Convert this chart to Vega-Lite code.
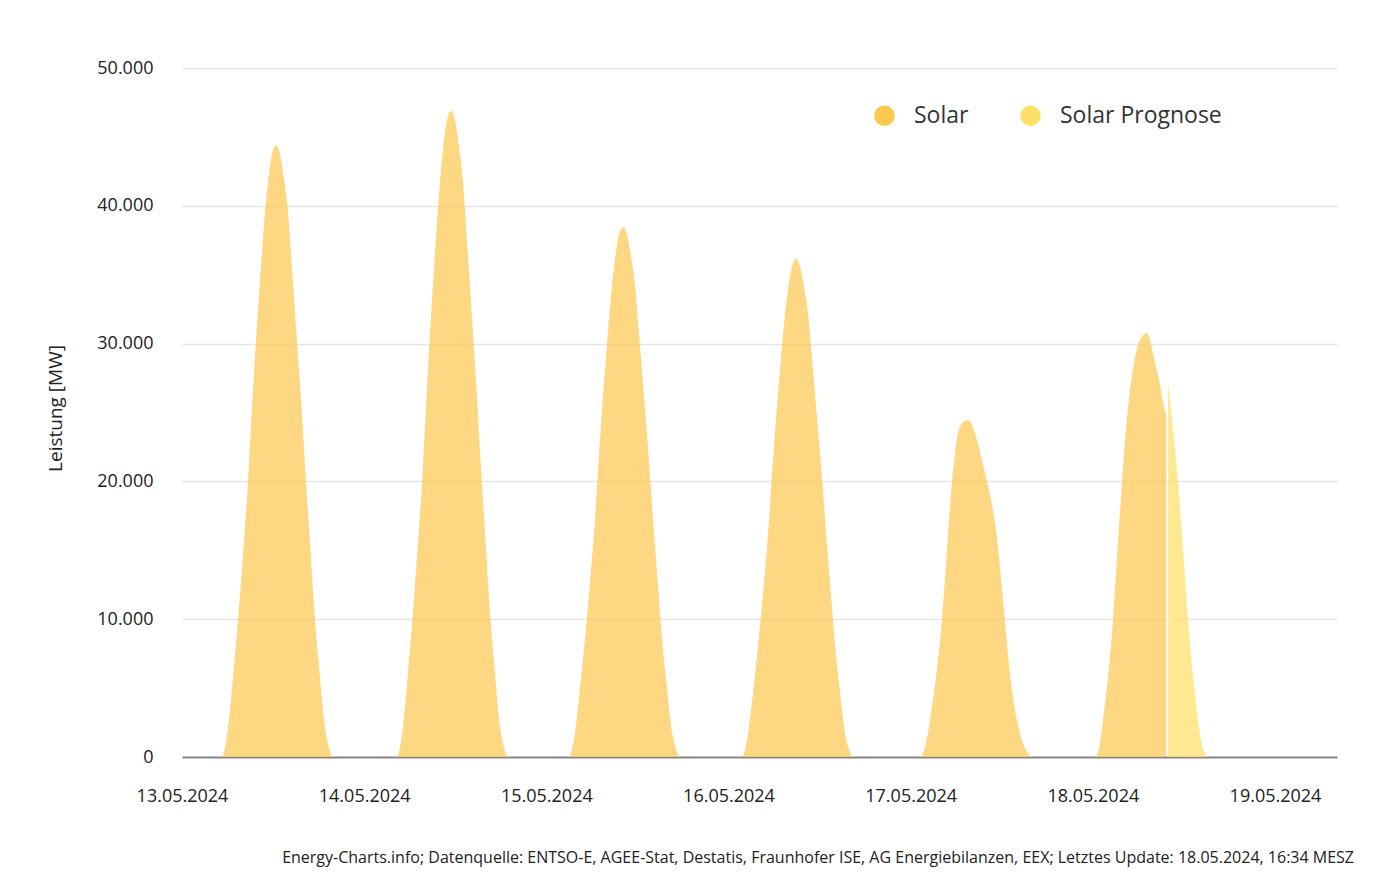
{
  "$schema": "https://vega.github.io/schema/vega-lite/v6.json",
  "autosize": {"type": "none"},
  "padding": {"left": 182, "top": 68, "right": 50, "bottom": 135},
  "width": 1155,
  "height": 689,
  "background": "white",
  "config": {
    "font": "Open Sans",
    "view": {"stroke": null}
  },
  "title": {
    "text": "Energy-Charts.info; Datenquelle: ENTSO-E, AGEE-Stat, Destatis, Fraunhofer ISE, AG Energiebilanzen, EEX; Letztes Update: 18.05.2024, 16:34 MESZ",
    "orient": "bottom",
    "anchor": "end",
    "frame": "group",
    "fontSize": 16,
    "fontWeight": "normal",
    "font": "Open Sans",
    "color": "#222222",
    "offset": 45,
    "dx": 17
  },
  "data": {
    "values": [
      {"t": "2024-05-13T00:00", "v": 0, "s": "Solar"},
      {"t": "2024-05-13T05:16", "v": 0, "s": "Solar"},
      {"t": "2024-05-13T05:40", "v": 666, "s": "Solar"},
      {"t": "2024-05-13T06:11", "v": 2664, "s": "Solar"},
      {"t": "2024-05-13T06:43", "v": 5772, "s": "Solar"},
      {"t": "2024-05-13T07:23", "v": 9990, "s": "Solar"},
      {"t": "2024-05-13T08:02", "v": 14650, "s": "Solar"},
      {"t": "2024-05-13T08:42", "v": 19980, "s": "Solar"},
      {"t": "2024-05-13T09:13", "v": 25310, "s": "Solar"},
      {"t": "2024-05-13T09:45", "v": 30190, "s": "Solar"},
      {"t": "2024-05-13T10:17", "v": 34630, "s": "Solar"},
      {"t": "2024-05-13T10:48", "v": 38630, "s": "Solar"},
      {"t": "2024-05-13T11:20", "v": 41740, "s": "Solar"},
      {"t": "2024-05-13T11:51", "v": 43730, "s": "Solar"},
      {"t": "2024-05-13T12:23", "v": 44400, "s": "Solar"},
      {"t": "2024-05-13T12:55", "v": 43730, "s": "Solar"},
      {"t": "2024-05-13T13:26", "v": 41960, "s": "Solar"},
      {"t": "2024-05-13T13:58", "v": 39520, "s": "Solar"},
      {"t": "2024-05-13T14:29", "v": 35520, "s": "Solar"},
      {"t": "2024-05-13T15:09", "v": 30190, "s": "Solar"},
      {"t": "2024-05-13T15:45", "v": 25310, "s": "Solar"},
      {"t": "2024-05-13T16:20", "v": 19980, "s": "Solar"},
      {"t": "2024-05-13T16:56", "v": 14870, "s": "Solar"},
      {"t": "2024-05-13T17:31", "v": 9990, "s": "Solar"},
      {"t": "2024-05-13T18:11", "v": 5772, "s": "Solar"},
      {"t": "2024-05-13T18:42", "v": 2664, "s": "Solar"},
      {"t": "2024-05-13T19:22", "v": 666, "s": "Solar"},
      {"t": "2024-05-13T19:54", "v": 0, "s": "Solar"},
      {"t": "2024-05-14T04:19", "v": 0, "s": "Solar"},
      {"t": "2024-05-14T04:43", "v": 704, "s": "Solar"},
      {"t": "2024-05-14T05:14", "v": 2814, "s": "Solar"},
      {"t": "2024-05-14T05:46", "v": 6097, "s": "Solar"},
      {"t": "2024-05-14T06:26", "v": 10550, "s": "Solar"},
      {"t": "2024-05-14T07:05", "v": 15480, "s": "Solar"},
      {"t": "2024-05-14T07:45", "v": 21100, "s": "Solar"},
      {"t": "2024-05-14T08:16", "v": 26730, "s": "Solar"},
      {"t": "2024-05-14T08:48", "v": 31890, "s": "Solar"},
      {"t": "2024-05-14T09:20", "v": 36580, "s": "Solar"},
      {"t": "2024-05-14T09:51", "v": 40800, "s": "Solar"},
      {"t": "2024-05-14T10:23", "v": 44090, "s": "Solar"},
      {"t": "2024-05-14T10:54", "v": 46200, "s": "Solar"},
      {"t": "2024-05-14T11:26", "v": 46900, "s": "Solar"},
      {"t": "2024-05-14T11:58", "v": 46200, "s": "Solar"},
      {"t": "2024-05-14T12:29", "v": 44320, "s": "Solar"},
      {"t": "2024-05-14T13:01", "v": 41740, "s": "Solar"},
      {"t": "2024-05-14T13:32", "v": 37520, "s": "Solar"},
      {"t": "2024-05-14T14:12", "v": 31890, "s": "Solar"},
      {"t": "2024-05-14T14:48", "v": 26730, "s": "Solar"},
      {"t": "2024-05-14T15:23", "v": 21100, "s": "Solar"},
      {"t": "2024-05-14T15:59", "v": 15710, "s": "Solar"},
      {"t": "2024-05-14T16:34", "v": 10550, "s": "Solar"},
      {"t": "2024-05-14T17:14", "v": 6097, "s": "Solar"},
      {"t": "2024-05-14T17:45", "v": 2814, "s": "Solar"},
      {"t": "2024-05-14T18:25", "v": 704, "s": "Solar"},
      {"t": "2024-05-14T18:57", "v": 0, "s": "Solar"},
      {"t": "2024-05-15T02:59", "v": 0, "s": "Solar"},
      {"t": "2024-05-15T03:23", "v": 577, "s": "Solar"},
      {"t": "2024-05-15T03:54", "v": 2308, "s": "Solar"},
      {"t": "2024-05-15T04:26", "v": 5000, "s": "Solar"},
      {"t": "2024-05-15T05:06", "v": 8654, "s": "Solar"},
      {"t": "2024-05-15T05:45", "v": 12690, "s": "Solar"},
      {"t": "2024-05-15T06:25", "v": 17310, "s": "Solar"},
      {"t": "2024-05-15T06:56", "v": 21920, "s": "Solar"},
      {"t": "2024-05-15T07:28", "v": 26150, "s": "Solar"},
      {"t": "2024-05-15T08:00", "v": 30000, "s": "Solar"},
      {"t": "2024-05-15T08:31", "v": 33460, "s": "Solar"},
      {"t": "2024-05-15T09:03", "v": 36150, "s": "Solar"},
      {"t": "2024-05-15T09:34", "v": 37880, "s": "Solar"},
      {"t": "2024-05-15T10:06", "v": 38460, "s": "Solar"},
      {"t": "2024-05-15T10:38", "v": 37880, "s": "Solar"},
      {"t": "2024-05-15T11:09", "v": 36340, "s": "Solar"},
      {"t": "2024-05-15T11:41", "v": 34230, "s": "Solar"},
      {"t": "2024-05-15T12:12", "v": 30770, "s": "Solar"},
      {"t": "2024-05-15T12:52", "v": 26150, "s": "Solar"},
      {"t": "2024-05-15T13:28", "v": 21920, "s": "Solar"},
      {"t": "2024-05-15T14:03", "v": 17310, "s": "Solar"},
      {"t": "2024-05-15T14:39", "v": 12880, "s": "Solar"},
      {"t": "2024-05-15T15:14", "v": 8654, "s": "Solar"},
      {"t": "2024-05-15T15:54", "v": 5000, "s": "Solar"},
      {"t": "2024-05-15T16:25", "v": 2308, "s": "Solar"},
      {"t": "2024-05-15T17:05", "v": 577, "s": "Solar"},
      {"t": "2024-05-15T17:37", "v": 0, "s": "Solar"},
      {"t": "2024-05-16T01:47", "v": 0, "s": "Solar"},
      {"t": "2024-05-16T02:11", "v": 542, "s": "Solar"},
      {"t": "2024-05-16T02:42", "v": 2168, "s": "Solar"},
      {"t": "2024-05-16T03:14", "v": 4698, "s": "Solar"},
      {"t": "2024-05-16T03:54", "v": 8132, "s": "Solar"},
      {"t": "2024-05-16T04:33", "v": 11930, "s": "Solar"},
      {"t": "2024-05-16T05:13", "v": 16260, "s": "Solar"},
      {"t": "2024-05-16T05:44", "v": 20600, "s": "Solar"},
      {"t": "2024-05-16T06:16", "v": 24580, "s": "Solar"},
      {"t": "2024-05-16T06:48", "v": 28190, "s": "Solar"},
      {"t": "2024-05-16T07:19", "v": 31440, "s": "Solar"},
      {"t": "2024-05-16T07:51", "v": 33970, "s": "Solar"},
      {"t": "2024-05-16T08:22", "v": 35600, "s": "Solar"},
      {"t": "2024-05-16T08:54", "v": 36140, "s": "Solar"},
      {"t": "2024-05-16T09:26", "v": 35600, "s": "Solar"},
      {"t": "2024-05-16T09:57", "v": 34150, "s": "Solar"},
      {"t": "2024-05-16T10:29", "v": 32160, "s": "Solar"},
      {"t": "2024-05-16T11:00", "v": 28910, "s": "Solar"},
      {"t": "2024-05-16T11:40", "v": 24580, "s": "Solar"},
      {"t": "2024-05-16T12:16", "v": 20600, "s": "Solar"},
      {"t": "2024-05-16T12:51", "v": 16260, "s": "Solar"},
      {"t": "2024-05-16T13:27", "v": 12110, "s": "Solar"},
      {"t": "2024-05-16T14:02", "v": 8132, "s": "Solar"},
      {"t": "2024-05-16T14:42", "v": 4698, "s": "Solar"},
      {"t": "2024-05-16T15:13", "v": 2168, "s": "Solar"},
      {"t": "2024-05-16T15:53", "v": 542, "s": "Solar"},
      {"t": "2024-05-16T16:25", "v": 0, "s": "Solar"},
      {"t": "2024-05-17T01:14", "v": 0, "s": "Solar"},
      {"t": "2024-05-17T01:38", "v": 250, "s": "Solar"},
      {"t": "2024-05-17T02:33", "v": 2685, "s": "Solar"},
      {"t": "2024-05-17T04:08", "v": 10000, "s": "Solar"},
      {"t": "2024-05-17T05:27", "v": 19960, "s": "Solar"},
      {"t": "2024-05-17T06:14", "v": 23500, "s": "Solar"},
      {"t": "2024-05-17T06:54", "v": 24300, "s": "Solar"},
      {"t": "2024-05-17T07:33", "v": 24460, "s": "Solar"},
      {"t": "2024-05-17T08:05", "v": 24090, "s": "Solar"},
      {"t": "2024-05-17T08:44", "v": 23000, "s": "Solar"},
      {"t": "2024-05-17T09:32", "v": 21190, "s": "Solar"},
      {"t": "2024-05-17T10:27", "v": 19020, "s": "Solar"},
      {"t": "2024-05-17T11:15", "v": 16470, "s": "Solar"},
      {"t": "2024-05-17T12:10", "v": 11390, "s": "Solar"},
      {"t": "2024-05-17T13:21", "v": 4860, "s": "Solar"},
      {"t": "2024-05-17T14:40", "v": 1230, "s": "Solar"},
      {"t": "2024-05-17T15:28", "v": 250, "s": "Solar"},
      {"t": "2024-05-17T15:59", "v": 0, "s": "Solar"},
      {"t": "2024-05-18T00:17", "v": 0, "s": "Solar"},
      {"t": "2024-05-18T00:49", "v": 600, "s": "Solar"},
      {"t": "2024-05-18T01:20", "v": 2685, "s": "Solar"},
      {"t": "2024-05-18T02:00", "v": 5800, "s": "Solar"},
      {"t": "2024-05-18T02:40", "v": 10000, "s": "Solar"},
      {"t": "2024-05-18T03:11", "v": 14500, "s": "Solar"},
      {"t": "2024-05-18T03:51", "v": 20000, "s": "Solar"},
      {"t": "2024-05-18T04:22", "v": 23800, "s": "Solar"},
      {"t": "2024-05-18T04:54", "v": 26600, "s": "Solar"},
      {"t": "2024-05-18T05:26", "v": 28600, "s": "Solar"},
      {"t": "2024-05-18T05:57", "v": 29900, "s": "Solar"},
      {"t": "2024-05-18T06:29", "v": 30500, "s": "Solar"},
      {"t": "2024-05-18T07:08", "v": 30770, "s": "Solar"},
      {"t": "2024-05-18T07:32", "v": 30300, "s": "Solar"},
      {"t": "2024-05-18T07:56", "v": 29200, "s": "Solar"},
      {"t": "2024-05-18T08:27", "v": 28000, "s": "Solar"},
      {"t": "2024-05-18T08:51", "v": 27000, "s": "Solar"},
      {"t": "2024-05-18T09:15", "v": 25700, "s": "Solar"},
      {"t": "2024-05-18T09:40", "v": 24900, "s": "Solar"},
      {"t": "2024-05-18T09:55", "v": 27200, "s": "Solar Prognose"},
      {"t": "2024-05-18T10:26", "v": 24500, "s": "Solar Prognose"},
      {"t": "2024-05-18T11:13", "v": 20000, "s": "Solar Prognose"},
      {"t": "2024-05-18T11:53", "v": 15000, "s": "Solar Prognose"},
      {"t": "2024-05-18T12:32", "v": 10000, "s": "Solar Prognose"},
      {"t": "2024-05-18T13:28", "v": 4500, "s": "Solar Prognose"},
      {"t": "2024-05-18T14:15", "v": 1200, "s": "Solar Prognose"},
      {"t": "2024-05-18T15:03", "v": 0, "s": "Solar Prognose"}
    ]
  },
  "mark": {"type": "area", "interpolate": "monotone", "opacity": 0.72},
  "encoding": {
    "x": {
      "field": "t",
      "type": "temporal",
      "title": null,
      "scale": {
        "domain": [
          {"year": 2024, "month": 5, "date": 13, "hours": 0},
          {"year": 2024, "month": 5, "date": 19, "hours": 8, "minutes": 10}
        ]
      },
      "axis": {
        "values": [
          {"year": 2024, "month": 5, "date": 13},
          {"year": 2024, "month": 5, "date": 14},
          {"year": 2024, "month": 5, "date": 15},
          {"year": 2024, "month": 5, "date": 16},
          {"year": 2024, "month": 5, "date": 17},
          {"year": 2024, "month": 5, "date": 18},
          {"year": 2024, "month": 5, "date": 19}
        ],
        "format": "%d.%m.%Y",
        "labelFontSize": 18,
        "labelColor": "#222222",
        "labelPadding": 30,
        "labelFlush": false,
        "labelOverlap": false,
        "ticks": false,
        "grid": false,
        "domainColor": "#888888",
        "domainWidth": 2
      }
    },
    "y": {
      "field": "v",
      "type": "quantitative",
      "stack": null,
      "scale": {"domain": [0, 50000], "nice": false},
      "axis": {
        "title": "Leistung [MW]",
        "titleFontSize": 19,
        "titleFontWeight": "normal",
        "titleColor": "#222222",
        "titleX": -127,
        "titleY": 340,
        "titleAngle": -90,
        "titleAlign": "center",
        "titleBaseline": "middle",
        "values": [0, 10000, 20000, 30000, 40000, 50000],
        "labelExpr": "replace(format(datum.value, ','), ',', '.')",
        "labelFontSize": 18,
        "labelColor": "#222222",
        "labelPadding": 29,
        "ticks": false,
        "domain": false,
        "gridColor": "#e6e6e6",
        "gridWidth": 1.5
      }
    },
    "color": {
      "field": "s",
      "type": "nominal",
      "scale": {"domain": ["Solar", "Solar Prognose"], "range": ["#fcc850", "#fde065"]},
      "legend": {
        "title": null,
        "orient": "none",
        "legendX": 691,
        "legendY": 36,
        "direction": "horizontal",
        "symbolType": "circle",
        "symbolSize": 420,
        "symbolOpacity": 1,
        "symbolStrokeWidth": 0,
        "labelFontSize": 23,
        "labelLimit": 400,
        "labelColor": "#333333",
        "labelOffset": 18,
        "columnPadding": 50
      }
    }
  }
}
